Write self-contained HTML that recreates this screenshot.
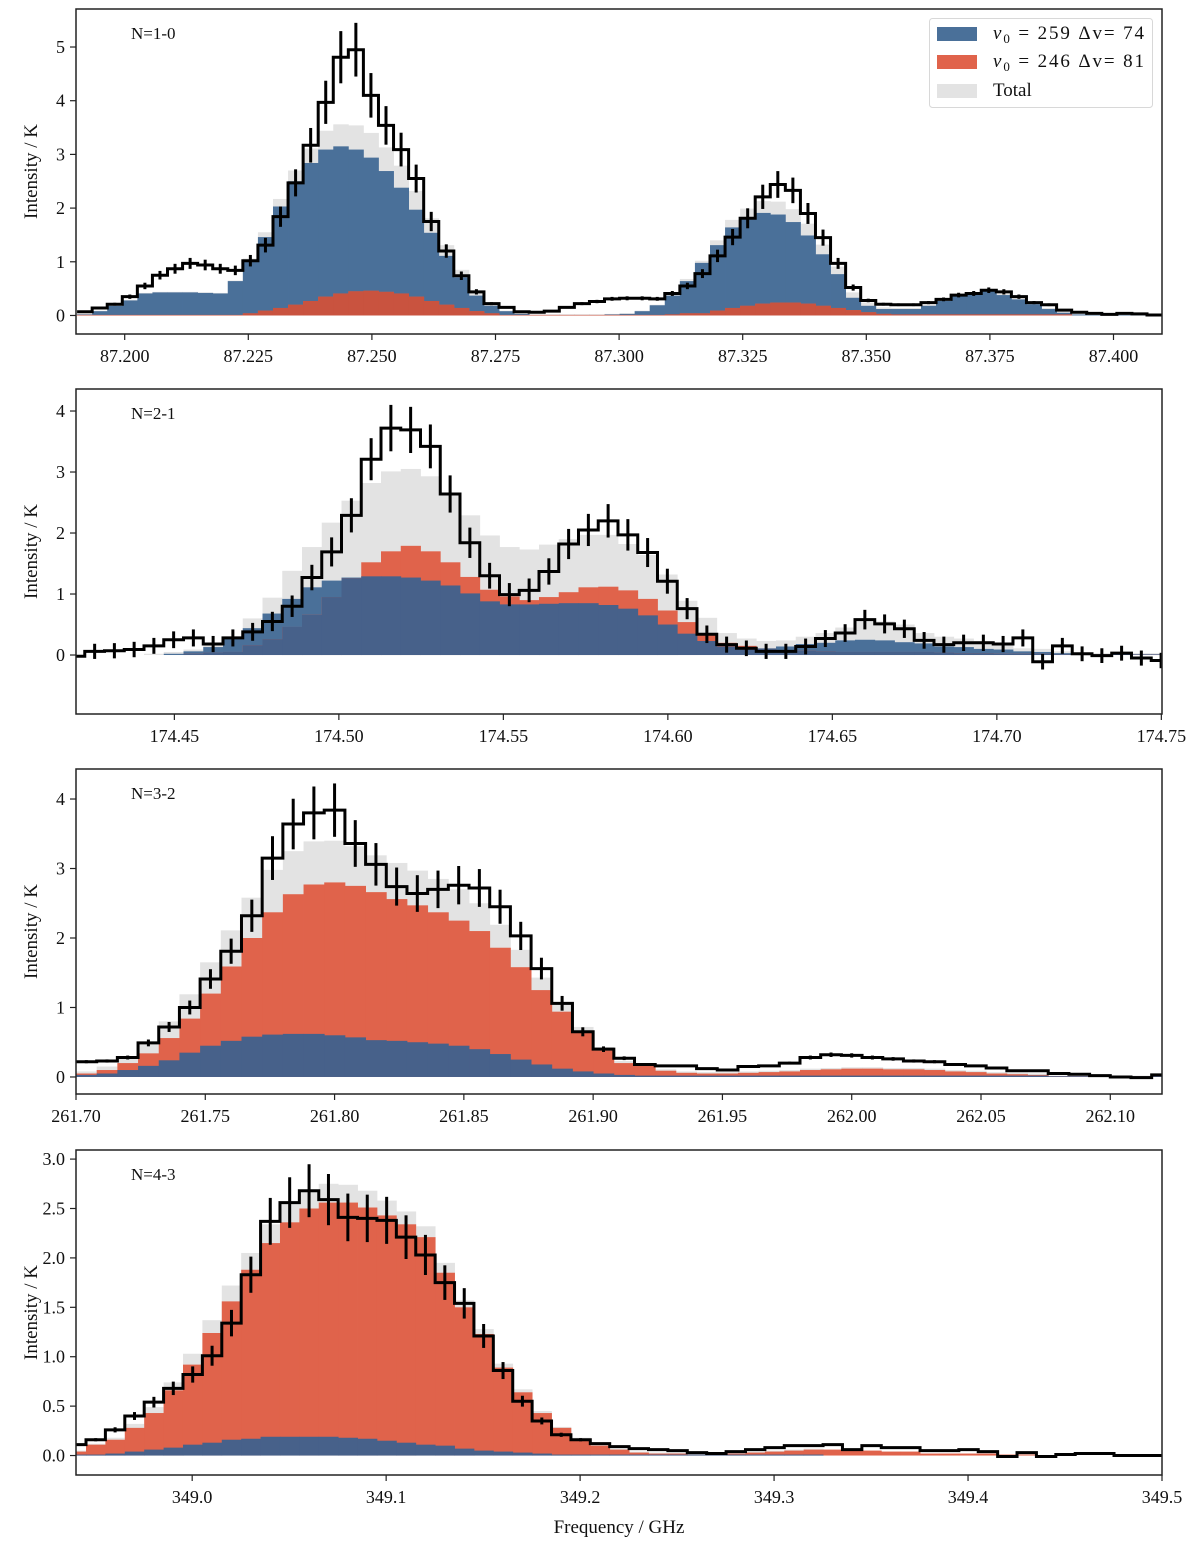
<!DOCTYPE html>
<html><head><meta charset="utf-8"><title>Spectral line fits</title>
<style>
html,body{margin:0;padding:0;background:#fff;}
svg{display:block;font-family:"Liberation Serif","DejaVu Serif",serif;}
</style></head>
<body>
<svg id="fig" width="1200" height="1550" viewBox="0 0 1200 1550" xmlns="http://www.w3.org/2000/svg"></svg>
<script>
// ---------- Panel 1: N=1-0 ----------
const p1Obs = [0.07,0.14,0.21,0.35,0.55,0.75,0.87,0.97,0.94,0.87,0.84,1.02,1.31,1.84,2.47,3.17,3.97,4.81,4.95,4.10,3.54,3.09,2.55,1.75,1.20,0.74,0.44,0.22,0.15,0.07,0.06,0.08,0.15,0.22,0.26,0.31,0.32,
0.32,0.31,0.41,0.55,0.78,1.11,1.46,1.81,2.21,2.44,2.33,1.90,1.45,0.97,0.52,0.28,0.21,0.20,0.20,0.24,0.30,0.38,0.41,0.47,0.44,0.35,0.24,0.20,0.10,0.06,0.04,0.02,0.04,0.03,0.01];
const p1Blue = [0.02,0.08,0.18,0.28,0.41,0.43,0.43,0.43,0.42,0.41,0.64,1.02,1.46,2.03,2.50,2.84,3.09,3.15,3.09,2.94,2.69,2.38,1.97,1.54,1.11,0.71,0.37,0.18,0.08,0.03,0.01,0.01,0.01,0.01,0.01,0.02,0.03,
0.08,0.19,0.37,0.64,0.98,1.31,1.64,1.81,1.91,1.88,1.74,1.49,1.14,0.77,0.33,0.18,0.12,0.12,0.12,0.18,0.27,0.38,0.41,0.46,0.38,0.30,0.21,0.12,0.05,0.02,0.01,0.01,0.01,0.01,0.01];
const p1Red = [0.01,0.01,0.01,0.01,0.01,0.01,0.01,0.01,0.01,0.01,0.01,0.04,0.09,0.14,0.20,0.27,0.35,0.41,0.45,0.46,0.44,0.41,0.35,0.27,0.20,0.14,0.08,0.04,
0.01,0.01,0.01,0.01,0.01,0.01,0.01,0.01,0.01,0.01,0.01,0.02,0.04,0.04,0.09,0.14,0.18,0.22,0.24,0.24,0.22,0.18,0.14,0.10,0.06,0.03,
0.02,0.02,0.02,0.02,0.02,0.02,0.02,0.02,0.02,0.02,0.02,0.02,0,0,0,0,0,0];
const p1Ticks = [87.200,87.225,87.250,87.275,87.300,87.325,87.350,87.375,87.400];
const p1TickLabels = ["87.200","87.225","87.250","87.275","87.300","87.325","87.350","87.375","87.400"];
const p1YTicks = [0,1,2,3,4,5];
const p1YTickLabels = ["0","1","2","3","4","5"];

// ---------- Panel 2: N=2-1 ----------
const p2Obs = [-0.02,0.06,0.07,0.09,0.15,0.25,0.28,0.18,0.28,0.38,0.55,0.80,1.27,1.69,2.29,3.21,3.72,3.69,3.42,2.64,1.84,1.30,0.99,1.06,1.37,1.82,2.05,
2.20,1.97,1.68,1.21,0.76,0.34,0.17,0.11,0.06,0.06,0.14,0.27,0.36,0.58,0.51,0.43,0.24,0.17,0.20,0.20,0.18,0.28,-0.11,0.15,0.02,-0.01,0.03,-0.05,-0.09];
const p2Blue = [0,0,0,0,0,0.02,0.06,0.13,0.30,0.44,0.68,0.92,1.11,1.22,1.27,1.29,1.29,1.27,1.22,1.14,1.01,0.88,0.83,0.83,0.84,0.85,0.85,
0.82,0.76,0.65,0.50,0.35,0.23,0.14,0.11,0.11,0.14,0.18,0.20,0.24,0.25,0.24,0.21,0.19,0.14,0.13,0.10,0.09,0.06,0.05,0.03,0.02,0.01,0.01,0.01,0.01];
const p2Red = [0,0,0,0,0,0,0.02,0.04,0.05,0.16,0.26,0.46,0.66,0.95,1.26,1.52,1.70,1.79,1.70,1.52,1.28,1.07,0.96,0.90,0.95,1.03,1.11,
1.12,1.06,0.92,0.73,0.54,0.33,0.20,0.15,0.10,0.08,0.07,0.06,0.05,0.05,0.05,0.05,0.05,0.04,0.03,0.03,0.02,0.02,0.02,0.01,0.01,0.01,0.01,0.01,0.01];
const p2Total = [0,0,0,0,0.02,0.05,0.09,0.17,0.30,0.60,0.94,1.38,1.77,2.17,2.53,2.82,3.01,3.05,2.93,2.63,2.29,1.96,1.77,1.73,1.81,1.90,1.97,
1.97,1.82,1.64,1.32,0.89,0.61,0.36,0.27,0.23,0.24,0.30,0.36,0.45,0.55,0.55,0.50,0.36,0.30,0.27,0.23,0.17,0.11,0.10,0.06,0.03,0.03,0.03,0.03,0.03];
const p2Ticks = [174.45,174.50,174.55,174.60,174.65,174.70,174.75];
const p2TickLabels = ["174.45","174.50","174.55","174.60","174.65","174.70","174.75"];
const p2YTicks = [0,1,2,3,4];
const p2YTickLabels = ["0","1","2","3","4"];

// ---------- Panel 3: N=3-2 ----------
const p3Obs = [0.22,0.23,0.28,0.49,0.72,1.00,1.41,1.81,2.32,3.15,3.64,3.80,3.84,3.36,3.06,2.74,2.64,2.70,2.76,2.72,2.45,2.03,1.56,1.06,0.65,0.40,0.27,0.18,
0.16,0.16,0.12,0.10,0.15,0.16,0.20,0.28,0.32,0.31,0.28,0.26,0.23,0.22,0.18,0.16,0.13,0.09,0.09,0.05,0.04,0.02,0.00,-0.01,0.03];
const p3Red = [0.05,0.10,0.20,0.34,0.56,0.84,1.20,1.59,2.00,2.37,2.63,2.77,2.80,2.75,2.66,2.56,2.47,2.37,2.25,2.10,1.86,1.58,1.25,0.94,0.64,0.38,0.20,
0.18,0.09,0.06,0.05,0.05,0.06,0.07,0.08,0.10,0.11,0.12,0.12,0.11,0.11,0.10,0.08,0.07,0.05,0.04,0.03,0.01,0.01,0.01,0.01,0.01,0.01];
const p3Blue = [0.03,0.05,0.10,0.16,0.24,0.35,0.45,0.52,0.58,0.61,0.62,0.62,0.60,0.57,0.53,0.52,0.50,0.48,0.45,0.40,0.33,0.25,0.18,0.12,0.08,0.05,0.03,
0.02,0.02,0.02,0.02,0.02,0.02,0.02,0.02,0.02,0.02,0.02,0.02,0.02,0.02,0.02,0.02,0.02,0.02,0.02,0.02,0.01,0.01,0.01,0.01,0.01,0.01];
const p3Ticks = [261.70,261.75,261.80,261.85,261.90,261.95,262.00,262.05,262.10];
const p3TickLabels = ["261.70","261.75","261.80","261.85","261.90","261.95","262.00","262.05","262.10"];
const p3YTicks = [0,1,2,3,4];
const p3YTickLabels = ["0","1","2","3","4"];

// ---------- Panel 4: N=4-3 ----------
const p4Obs = [0.11,0.16,0.26,0.40,0.54,0.68,0.82,1.01,1.34,1.83,2.37,2.56,2.68,2.59,2.41,2.40,2.38,2.21,2.03,1.75,1.54,1.21,0.86,0.55,0.35,0.21,0.16,0.12,0.09,
0.07,0.06,0.05,0.03,0.02,0.04,0.06,0.08,0.10,0.10,0.11,0.06,0.10,0.08,0.08,0.05,0.05,0.06,0.04,-0.01,0.03,-0.01,0.01,0.02,0.02,0.00,0.00,0.00];
const p4Red = [0.04,0.11,0.16,0.28,0.43,0.66,0.92,1.24,1.56,1.88,2.15,2.36,2.50,2.56,2.56,2.51,2.43,2.34,2.21,1.85,1.50,1.23,0.89,0.64,0.43,0.28,0.17,0.10,0.06,
0.03,0.02,0.02,0.01,0.01,0.02,0.03,0.04,0.05,0.06,0.06,0.05,0.05,0.04,0.04,0.02,0.02,0.02,0.02,0.01,0.01,0,0,0,0,0,0,0];
const p4Blue = [0.01,0.01,0.02,0.04,0.06,0.08,0.11,0.13,0.16,0.17,0.19,0.19,0.19,0.19,0.18,0.17,0.15,0.13,0.11,0.10,0.07,0.05,0.04,0.03,0.02,0.01,0.01,0.01,0.01,
0.01,0.01,0.01,0.01,0.01,0.01,0.01,0.01,0.01,0.01,0,0,0,0,0,0,0,0,0,0,0,0,0,0,0,0,0,0];
const p4Ticks = [349.0,349.1,349.2,349.3,349.4,349.5];
const p4TickLabels = ["349.0","349.1","349.2","349.3","349.4","349.5"];
const p4YTicks = [0,0.5,1,1.5,2,2.5,3];
const p4YTickLabels = ["0.0","0.5","1.0","1.5","2.0","2.5","3.0"];

const panels = [
 {id:'p1',label:'N=1-0',l:76,r:1162,t:9,b:334,xd:[87.19015,87.40981],yd:[-0.345,5.708],x0:87.19037,bw:0.003048,
  obs:p1Obs,blue:p1Blue,red:p1Red,total:null,ticks:p1Ticks,tl:p1TickLabels,yt:p1YTicks,ytl:p1YTickLabels,errAbs:0.005,errRel:0.1,ov:'#c9533f'},
 {id:'p2',label:'N=2-1',l:76,r:1162,t:389,b:714,xd:[174.4201,174.7502],yd:[-0.967,4.361],x0:174.41676,bw:0.006003,
  obs:p2Obs,blue:p2Blue,red:p2Red,total:p2Total,ticks:p2Ticks,tl:p2TickLabels,yt:p2YTicks,ytl:p2YTickLabels,errAbs:0.12,errRel:0.07,ov:'#47618a'},
 {id:'p3',label:'N=3-2',l:76,r:1162,t:769,b:1094,xd:[261.70,262.12],yd:[-0.245,4.432],x0:261.700,bw:0.0080,
  obs:p3Obs,blue:p3Blue,red:p3Red,total:null,ticks:p3Ticks,tl:p3TickLabels,yt:p3YTicks,ytl:p3YTickLabels,errAbs:0.0,errRel:0.1,ov:'#47618a'},
 {id:'p4',label:'N=4-3',l:76,r:1162,t:1150,b:1475,xd:[348.9401,349.5],yd:[-0.197,3.092],x0:348.93526,bw:0.0100,
  obs:p4Obs,blue:p4Blue,red:p4Red,total:null,ticks:p4Ticks,tl:p4TickLabels,yt:p4YTicks,ytl:p4YTickLabels,errAbs:0.0,errRel:0.1,ov:'#47618a'}
];

const NS='http://www.w3.org/2000/svg';
const svg=document.getElementById('fig');
function mk(tag,attrs,parent){const e=document.createElementNS(NS,tag);for(const k in attrs)e.setAttribute(k,attrs[k]);(parent||svg).appendChild(e);return e;}
const BLUE='#4a7099', RED='#e0634b', GREY='#e3e3e3';

panels.forEach((p,pi)=>{
  const g=mk('g',{});
  
  
  const X=v=>p.l+(v-p.xd[0])/(p.xd[1]-p.xd[0])*(p.r-p.l);
  const Y=v=>p.b-(v-p.yd[0])/(p.yd[1]-p.yd[0])*(p.b-p.t);
  const defs=mk('defs',{},g);
  const cp=mk('clipPath',{id:'clip'+pi},defs);
  mk('rect',{x:p.l,y:p.t,width:p.r-p.l,height:p.b-p.t},cp);
  const plot=mk('g',{'clip-path':'url(#clip'+pi+')'},g);
  
  
  const n=p.obs.length;
  const edge=i=>X(p.x0+i*p.bw);
  function bars(vals,color,name){
    const sg=mk('g',{},plot);
    
    
    vals.forEach((v,i)=>{
      if(v===0)return;
      const x1=edge(i),x2=edge(i+1);const y0=Y(0),yv=Y(v);
      const r=mk('rect',{x:x1.toFixed(2),y:Math.min(y0,yv).toFixed(2),width:(x2-x1+0.4).toFixed(2),height:Math.abs(y0-yv).toFixed(2),fill:color},sg);
      
      
    });
  }
  const total=p.total?p.total:p.blue.map((b,i)=>b+p.red[i]);
  bars(total,GREY,'total');
  bars(p.blue,BLUE,'blue-component');
  bars(p.red,RED,'red-component');
  bars(p.blue.map((b,i)=>Math.min(b,p.red[i])),p.ov,'overlap');
  let d='M'+edge(0).toFixed(2)+','+Y(p.obs[0]).toFixed(2);
  for(let i=0;i<n;i++){ if(i>0)d+='V'+Y(p.obs[i]).toFixed(2); d+='H'+edge(i+1).toFixed(2);}
  const ln=mk('path',{d:d,fill:'none',stroke:'#000','stroke-width':3,'stroke-linejoin':'miter'},plot);
  
  
  const eg=mk('g',{},plot);
  
  
  p.obs.forEach((v,i)=>{
    const e=p.errAbs+p.errRel*Math.abs(v);
    const xc=(edge(i)+edge(i+1))/2;
    const eb=mk('line',{x1:xc.toFixed(2),x2:xc.toFixed(2),y1:Y(v-e).toFixed(2),y2:Y(v+e).toFixed(2),stroke:'#000','stroke-width':3},eg);
    
    
  });
  const fr=mk('rect',{x:p.l,y:p.t,width:p.r-p.l,height:p.b-p.t,fill:'none',stroke:'#222','stroke-width':1.5},g);
  
  
  const xa=mk('g',{},g);
  
  
  p.ticks.forEach((t,i)=>{
    const x=X(t);
    mk('line',{x1:x,x2:x,y1:p.b,y2:p.b+6,stroke:'#222','stroke-width':1.2},xa);
    const tx=mk('text',{x:x,y:p.b+28,'text-anchor':'middle','font-size':18,fill:'#111'},xa);
    tx.textContent=p.tl[i];
    
    
  });
  const ya=mk('g',{},g);
  
  
  p.yt.forEach((t,i)=>{
    const y=Y(t);
    mk('line',{x1:p.l-6,x2:p.l,y1:y,y2:y,stroke:'#222','stroke-width':1.2},ya);
    const tx=mk('text',{x:p.l-11,y:y+6,'text-anchor':'end','font-size':18,fill:'#111'},ya);
    tx.textContent=p.ytl[i];
    
    
  });
  const yl=mk('text',{x:0,y:0,transform:'translate(37,'+((p.t+p.b)/2)+') rotate(-90)','text-anchor':'middle','font-size':19,fill:'#111'},g);
  yl.textContent='Intensity / K';
  
  
  const pl=mk('text',{x:131,y:p.t+30,'font-size':17,fill:'#111'},g);
  pl.textContent=p.label;
  
  
});

const xl=mk('text',{x:619,y:1533,'text-anchor':'middle','font-size':19,fill:'#111'});
xl.textContent='Frequency / GHz';


</script>
<svg style="position:absolute;left:0;top:0" width="1200" height="120" xmlns="http://www.w3.org/2000/svg">
  <rect x="929.5" y="18.5" width="223" height="89" rx="3" fill="#fff" fill-opacity="0.85" stroke="#d8d8d8" stroke-width="1"/>
  <rect x="937" y="27" width="40" height="14" fill="#4a7099"/>
  <text x="993" y="39" font-size="19" font-family="Liberation Serif, serif" fill="#111" textLength="151" lengthAdjust="spacing"><tspan font-style="italic">v</tspan><tspan font-size="13" dy="4">0</tspan><tspan dy="-4"> = 259 Δv= 74</tspan></text>
  <rect x="937" y="55" width="40" height="14" fill="#e0634b"/>
  <text x="993" y="67" font-size="19" font-family="Liberation Serif, serif" fill="#111" textLength="151" lengthAdjust="spacing"><tspan font-style="italic">v</tspan><tspan font-size="13" dy="4">0</tspan><tspan dy="-4"> = 246 Δv= 81</tspan></text>
  <rect x="937" y="84" width="40" height="14" fill="#e3e3e3"/>
  <text x="993" y="96" font-size="19" font-family="Liberation Serif, serif" fill="#111">Total</text>
</svg>
</body></html>
